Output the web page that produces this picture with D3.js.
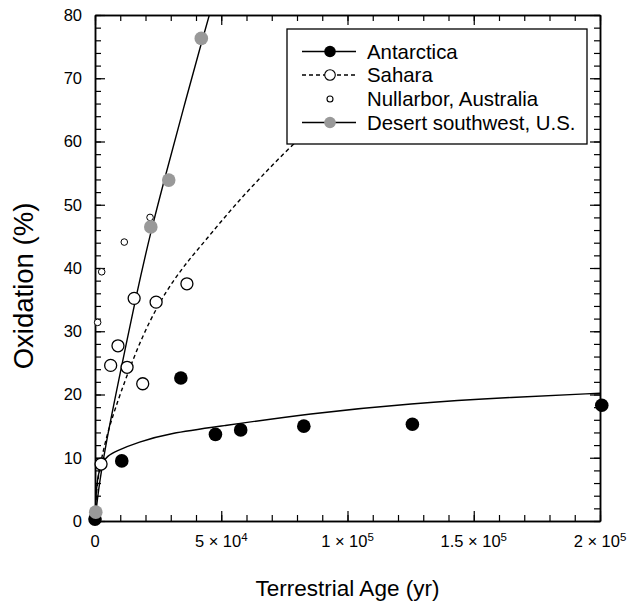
<!DOCTYPE html>
<html>
<head>
<meta charset="utf-8">
<script src="https://cdn.jsdelivr.net/npm/d3@7"></script>
<style>
  html, body { margin: 0; padding: 0; background: #fff; }
  svg { display: block; font-family: "Liberation Sans", Arial, Helvetica, sans-serif; }
</style>
</head>
<body>
<svg id="chart" width="631" height="603"></svg>
<script>
// ---- data ----
const antarcticaX = [0, 10600, 34000, 47700, 57700, 82700, 125700, 200700];
const antarcticaY = [0.3, 9.5, 22.6, 13.7, 14.4, 15.0, 15.3, 18.3];

const saharaX = [2400, 6200, 9100, 12700, 15500, 18900, 24200, 36400];
const saharaY = [9.0, 24.6, 27.7, 24.3, 35.2, 21.7, 34.6, 37.5];

const nullarborX = [1050, 2650, 11600, 21800];
const nullarborY = [31.4, 39.4, 44.1, 48.0];

const desertX = [300, 22100, 29200, 42100];
const desertY = [1.4, 46.5, 53.9, 76.3];

// fitted curves
const antarcticaFitX = [0, 400, 1200, 2500, 5000, 8000, 17000, 30000, 48000, 85000, 125000, 166000, 200000];
const antarcticaFitY = [0, 4.5, 7.3, 9.1, 10.3, 11.0, 12.5, 13.9, 14.9, 17.0, 18.6, 19.6, 20.2];

const saharaFitX = [0, 400, 1200, 2500, 5000, 8000, 12600, 18500, 25000, 31000, 37000, 43000, 55000, 65500, 77400, 90000];
const saharaFitY = [0, 4.0, 6.8, 9.8, 14.0, 17.8, 23.0, 29.0, 34.2, 38.0, 41.2, 44.0, 49.8, 54.3, 59.2, 63.8];

const desertFitX = [0, 1200, 3800, 9250, 16500, 22100, 28500, 35000, 42000, 46000];
const desertFitY = [0, 4.5, 11.2, 22.0, 36.0, 45.8, 55.5, 65.2, 75.4, 81.0];

// axes
const xTicks = [0, 50000, 100000, 150000, 200000];
const xTickMant = ["0", "5 \u00d7 10", "1 \u00d7 10", "1.5 \u00d7 10", "2 \u00d7 10"];
const xTickExp = ["", "4", "5", "5", "5"];
const yTicks = [0, 10, 20, 30, 40, 50, 60, 70, 80];
const xTitle = "Terrestrial Age (yr)";
const yTitle = "Oxidation (%)";
const legendLabels = ["Antarctica", "Sahara", "Nullarbor, Australia", "Desert southwest, U.S."];

// ---- drawing ----
const W = 631, H = 603;
const m = { left: 95, right: 31, top: 15, bottom: 82 };
const svg = d3.select("#chart");
const x = d3.scaleLinear().domain([0, 200000]).range([m.left, W - m.right]);
const y = d3.scaleLinear().domain([0, 80]).range([H - m.bottom, m.top]);

svg.append("defs").append("clipPath").attr("id", "plotclip")
  .append("rect").attr("x", m.left).attr("y", m.top)
  .attr("width", W - m.left - m.right).attr("height", H - m.top - m.bottom);

const xMinor = d3.range(0, 200001, 10000);
const yMinor = d3.range(0, 81, 2);

function axisStyle(g) {
  g.select(".domain").attr("stroke", "#000").attr("stroke-width", 1.5);
  g.selectAll(".tick line").attr("stroke", "#000").attr("stroke-width", 1.2);
  g.selectAll(".tick text").remove();
}
// bottom
svg.append("g").attr("transform", `translate(0,${y(0)})`)
  .call(d3.axisBottom(x).tickValues(xMinor).tickSizeInner(-6).tickSizeOuter(0).tickFormat(""))
  .call(axisStyle);
svg.append("g").attr("transform", `translate(0,${y(0)})`)
  .call(d3.axisBottom(x).tickValues(xTicks).tickSizeInner(-10).tickSizeOuter(0).tickFormat(""))
  .call(axisStyle);
// top
svg.append("g").attr("transform", `translate(0,${y(80)})`)
  .call(d3.axisTop(x).tickValues(xMinor).tickSizeInner(-6).tickSizeOuter(0).tickFormat(""))
  .call(axisStyle);
svg.append("g").attr("transform", `translate(0,${y(80)})`)
  .call(d3.axisTop(x).tickValues(xTicks).tickSizeInner(-10).tickSizeOuter(0).tickFormat(""))
  .call(axisStyle);
// left
svg.append("g").attr("transform", `translate(${x(0)},0)`)
  .call(d3.axisLeft(y).tickValues(yMinor).tickSizeInner(-6).tickSizeOuter(0).tickFormat(""))
  .call(axisStyle);
svg.append("g").attr("transform", `translate(${x(0)},0)`)
  .call(d3.axisLeft(y).tickValues(yTicks).tickSizeInner(-10).tickSizeOuter(0).tickFormat(""))
  .call(axisStyle);
// right
svg.append("g").attr("transform", `translate(${x(200000)},0)`)
  .call(d3.axisRight(y).tickValues(yMinor).tickSizeInner(-6).tickSizeOuter(0).tickFormat(""))
  .call(axisStyle);
svg.append("g").attr("transform", `translate(${x(200000)},0)`)
  .call(d3.axisRight(y).tickValues(yTicks).tickSizeInner(-10).tickSizeOuter(0).tickFormat(""))
  .call(axisStyle);

// tick labels
const xl = svg.append("g").selectAll("text").data(xTicks).join("text")
  .attr("x", d => x(d)).attr("y", y(0) + 25.5)
  .attr("text-anchor", "middle").attr("font-size", 16.5).attr("fill", "#000");
xl.append("tspan").text((d, i) => xTickMant[i]);
xl.append("tspan").attr("font-size", 11.5).attr("dy", -5.5).text((d, i) => xTickExp[i]);

svg.append("g").selectAll("text").data(yTicks).join("text")
  .attr("x", 82).attr("y", d => y(d)).attr("dy", "0.36em")
  .attr("text-anchor", "end").attr("font-size", 16.5).attr("fill", "#000")
  .text(d => d);

// titles
svg.append("text").attr("x", x(100000)).attr("y", 596)
  .attr("text-anchor", "middle").attr("font-size", 22.5).text(xTitle);
svg.append("text").attr("transform", `translate(33,286) rotate(-90)`)
  .attr("text-anchor", "middle").attr("font-size", 27.5).text(yTitle);

// curves
const line = d3.line().x(d => x(d[0])).y(d => y(d[1])).curve(d3.curveBasis);
const curves = svg.append("g").attr("clip-path", "url(#plotclip)")
  .attr("fill", "none").attr("stroke", "#000").attr("stroke-width", 1.4);
curves.append("path").attr("d", line(d3.zip(antarcticaFitX, antarcticaFitY)));
curves.append("path").attr("d", line(d3.zip(saharaFitX, saharaFitY))).attr("stroke-dasharray", "4,3");
curves.append("path").attr("d", line(d3.zip(desertFitX, desertFitY)));

// points
const pts = svg.append("g");
pts.selectAll(".ant").data(d3.zip(antarcticaX, antarcticaY)).join("circle")
  .attr("cx", d => x(d[0])).attr("cy", d => y(d[1])).attr("r", 6.8).attr("fill", "#000");
pts.selectAll(".sah").data(d3.zip(saharaX, saharaY)).join("circle")
  .attr("cx", d => x(d[0])).attr("cy", d => y(d[1])).attr("r", 6)
  .attr("fill", "#fff").attr("stroke", "#000").attr("stroke-width", 1.3);
pts.selectAll(".nul").data(d3.zip(nullarborX, nullarborY)).join("circle")
  .attr("cx", d => x(d[0])).attr("cy", d => y(d[1])).attr("r", 3.3)
  .attr("fill", "#fff").attr("stroke", "#000").attr("stroke-width", 1);
pts.selectAll(".des").data(d3.zip(desertX, desertY)).join("circle")
  .attr("cx", d => x(d[0])).attr("cy", d => y(d[1])).attr("r", 6.8).attr("fill", "#999");

// legend
const lg = svg.append("g");
lg.append("rect").attr("x", 287).attr("y", 29).attr("width", 300).attr("height", 115)
  .attr("fill", "#fff").attr("stroke", "#000").attr("stroke-width", 1.3);
const rowY = [51.5, 75, 99, 122.5];
const legendStyles = [
  { line: true, dash: null, r: 5.8, fill: "#000", stroke: "none" },
  { line: true, dash: "4,3", r: 5.3, fill: "#fff", stroke: "#000" },
  { line: false, dash: null, r: 3, fill: "#fff", stroke: "#000" },
  { line: true, dash: null, r: 5.8, fill: "#999", stroke: "none" }
];
legendLabels.forEach((lab, i) => {
  const s = legendStyles[i];
  if (s.line) {
    lg.append("line").attr("x1", 302).attr("x2", 356).attr("y1", rowY[i]).attr("y2", rowY[i])
      .attr("stroke", "#000").attr("stroke-width", 1.3).attr("stroke-dasharray", s.dash);
  }
  lg.append("circle").attr("cx", 330).attr("cy", rowY[i]).attr("r", s.r)
    .attr("fill", s.fill).attr("stroke", s.stroke).attr("stroke-width", 1.1);
  lg.append("text").attr("x", 367).attr("y", rowY[i]).attr("dy", "0.36em")
    .attr("font-size", 20.4).text(lab);
});
</script>
</body>
</html>
